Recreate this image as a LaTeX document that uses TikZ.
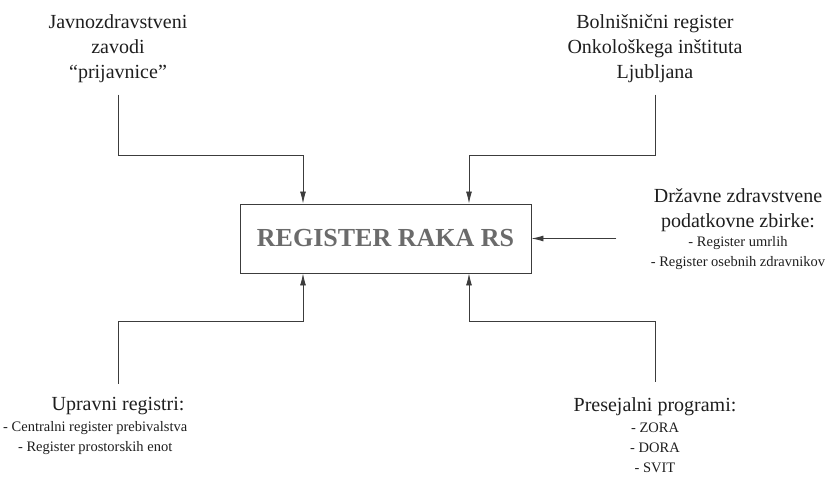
\documentclass[tikz,border=0pt]{standalone}
\usepackage{fontspec}
\setmainfont{Liberation Serif}
\usetikzlibrary{arrows.meta,positioning}
\definecolor{ink}{HTML}{1E1E1E}
\definecolor{wire}{HTML}{3C3C3C}
\definecolor{muted}{HTML}{6B6B6B}

\begin{document}
\begin{tikzpicture}[x=1pt,y=-1pt,
  src/.style={align=center,font=\fontsize{20}{25}\selectfont,text=ink,inner sep=0pt},
  sub/.style={align=center,font=\fontsize{14.5}{20}\selectfont,text=ink,inner sep=0pt},
  link/.style={wire,line width=0.9pt},
  feed/.style={link,-{Latex[length=12pt,width=6pt]}}]
  \useasboundingbox (0,0) rectangle (832,478);
  \node[draw=wire,line width=0.9pt,minimum width=291pt,minimum height=69pt,font=\bfseries\fontsize{26}{26}\selectfont,text=muted] (reg) at (385.5,238.5) {REGISTER RAKA RS};
  \node[src,anchor=north] (jz) at (118,14) {Javnozdravstveni\\zavodi\\“prijavnice”};
  \node[src,anchor=north] (bl) at (655,14) {Bolnišnični register\\Onkološkega inštituta\\Ljubljana};
  \node[src,anchor=north] (dz) at (738,188) {Državne zdravstvene\\podatkovne zbirke:};
  \node[sub,below=5pt of dz] (dzlist) {- Register umrlih\\- Register osebnih zdravnikov};
  \node[src,anchor=base] (ur) at (118,410) {Upravni registri:};
  \node[sub,anchor=base west] (urlist) at (3,451) {- Centralni register prebivalstva\\- Register prostorskih enot};
  \node[src,anchor=base] (pp) at (655,411) {Presejalni programi:};
  \node[sub,anchor=base] (pplist) at (655,472) {- ZORA\\- DORA\\- SVIT};
  \coordinate (tl) at ([xshift=-82.5pt]reg.north);
  \coordinate (tr) at ([xshift=83.5pt]reg.north);
  \coordinate (bll) at ([xshift=-82.5pt]reg.south);
  \coordinate (brr) at ([xshift=83.5pt]reg.south);
  \draw[feed] ([yshift=-12pt]jz.south) |- ([yshift=48pt]tl) -- (tl);
  \draw[feed] ([yshift=-12pt]bl.south) |- ([yshift=48pt]tr) -- (tr);
  \draw[feed] ([xshift=85pt]reg.east) -- (reg.east);
  \draw[feed] ([yshift=13pt]ur.north) |- ([yshift=-48pt]bll) -- (bll);
  \draw[feed] ([yshift=15pt]pp.north) |- ([yshift=-48pt]brr) -- (brr);
\end{tikzpicture}
\end{document}
